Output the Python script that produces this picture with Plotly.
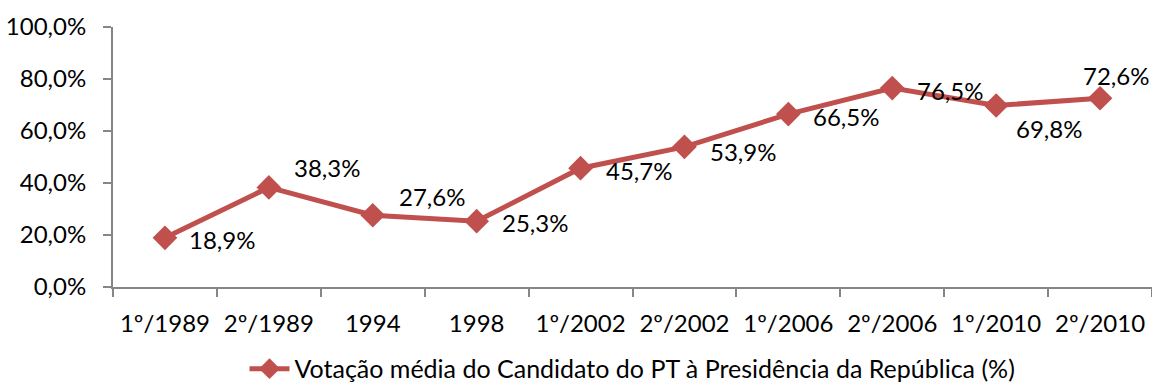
import plotly.graph_objects as go

# Eleições presidenciais: votação média do candidato do PT
turnos = ["1º/1989", "2º/1989", "1994", "1998", "1º/2002", "2º/2002",
          "1º/2006", "2º/2006", "1º/2010", "2º/2010"]
votacao = [18.9, 38.3, 27.6, 25.3, 45.7, 53.9, 66.5, 76.5, 69.8, 72.6]
y_ticks = [0, 20, 40, 60, 80, 100]
y_tick_text = ["0,0%", "20,0%", "40,0%", "60,0%", "80,0%", "100,0%"]
serie_nome = "Votação média do Candidato do PT à Presidência da República (%)"

# deslocamento (px) de cada rótulo de dados em relação ao ponto
label_dx = [57, 58, 59, 58, 58, 59, 58, 58, 53, 16]
label_dy = [-2, 20, 19, -1, -2, -5, -2, -2, -23, 23]

COR = "#C0504D"
EIXO = "#868686"
FONTE = "Lato"

fig = go.Figure()
fig.add_trace(go.Scatter(
    x=turnos, y=votacao, mode="lines+markers", name=serie_nome,
    line=dict(color=COR, width=5),
    marker=dict(symbol="diamond", size=19, color=COR),
))

# rótulos posicionados pelo índice da categoria
for i, (v, dx, dy) in enumerate(zip(votacao, label_dx, label_dy)):
    fig.add_annotation(
        x=i, y=v, text=f"{v:.1f}%".replace(".", ","), showarrow=False,
        xshift=dx, yshift=dy, font=dict(family=FONTE, size=24, color="#000000"),
    )

fig.update_layout(
    width=1152, height=385,
    margin=dict(l=113, r=0, t=27, b=98, autoexpand=False),
    paper_bgcolor="white", plot_bgcolor="white",
    font=dict(family=FONTE, size=24, color="#000000"),
    showlegend=True,
    legend=dict(orientation="h", x=0.5, xanchor="center", y=-0.315,
                yanchor="middle", font=dict(family=FONTE, size=25),
                itemwidth=40),
)
fig.update_xaxes(
    type="category", range=[-0.5, 9.5], showgrid=False, automargin=False,
    showline=True, linecolor=EIXO, linewidth=2,
    ticks="outside", tickson="boundaries", ticklen=8, tickcolor=EIXO, tickwidth=2,
    ticklabelstandoff=14, tickfont=dict(family=FONTE, size=24),
)
fig.update_yaxes(
    range=[0, 100], tickvals=y_ticks, ticktext=y_tick_text, showgrid=False,
    automargin=False, showline=True, linecolor=EIXO, linewidth=2,
    ticks="outside", ticklen=8, tickcolor=EIXO, tickwidth=2,
    ticklabelstandoff=12, tickfont=dict(family=FONTE, size=24), zeroline=False,
)

fig.write_html("out.html")
